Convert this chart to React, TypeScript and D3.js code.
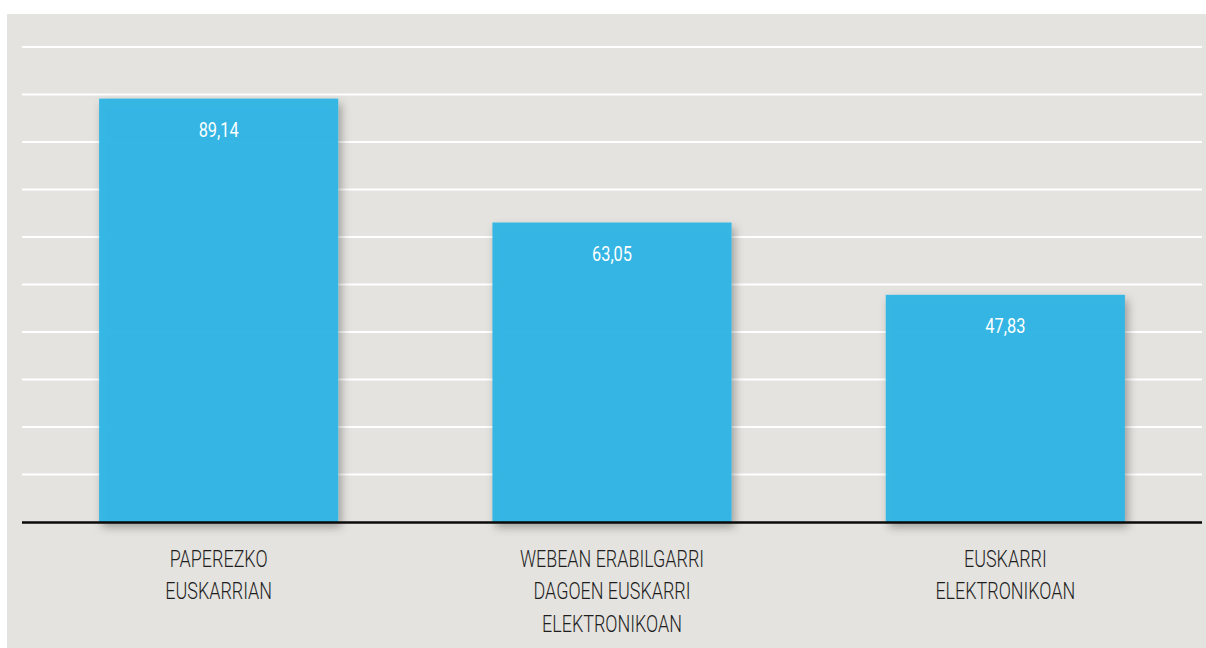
import React from "react";
import * as d3 from "d3";

const categories = [
  ["PAPEREZKO", "EUSKARRIAN"],
  ["WEBEAN ERABILGARRI", "DAGOEN EUSKARRI", "ELEKTRONIKOAN"],
  ["EUSKARRI", "ELEKTRONIKOAN"],
];
const values = [89.14, 63.05, 47.83];
const valueLabels = ["89,14", "63,05", "47,83"];
const gridTicks = [10, 20, 30, 40, 50, 60, 70, 80, 90, 100];

const W = 1206;
const H = 648;
const plotLeft = 22;
const plotRight = 1202;
const baseY = 522;
const topY = 47;

export default function App() {
  const x = d3
    .scaleBand<number>()
    .domain(d3.range(values.length))
    .range([plotLeft, plotRight])
    .paddingInner(0.392)
    .paddingOuter(0.196);
  const y = d3.scaleLinear().domain([0, 100]).range([baseY, topY]);
  const font = "Roboto, 'DejaVu Sans', sans-serif";

  return (
    <div style={{ position: "fixed", left: 0, top: 0, width: W, height: H, background: "#fff" }}>
      <svg width={W} height={H} style={{ display: "block" }}>
        <defs>
          <filter id="sh" x="-20%" y="-20%" width="140%" height="140%">
            <feDropShadow dx="3" dy="5" stdDeviation="5" floodColor="#000" floodOpacity="0.33" />
          </filter>
        </defs>
        <rect x={7} y={14} width={W - 7} height={H - 14} fill="#e4e3df" />
        {gridTicks.map((t) => (
          <line key={t} x1={plotLeft} x2={plotRight} y1={y(t)} y2={y(t)} stroke="#ffffff" strokeWidth={2.2} />
        ))}
        {values.map((v, i) => (
          <rect
            key={i}
            x={x(i)}
            y={y(v)}
            width={x.bandwidth()}
            height={baseY - y(v)}
            fill="#2fb5e4"
            fillOpacity={0.96}
            filter="url(#sh)"
          />
        ))}
        <line x1={plotLeft} x2={plotRight} y1={baseY + 0.5} y2={baseY + 0.5} stroke="#0a0a0a" strokeWidth={2.6} />
        {values.map((v, i) => {
          const cx = (x(i) as number) + x.bandwidth() / 2;
          return (
            <text
              key={"v" + i}
              transform={`translate(${cx},${y(v) + 38}) scale(0.84,1)`}
              textAnchor="middle"
              fill="#ffffff"
              fontFamily={font}
              fontSize={19.5}
            >
              {valueLabels[i]}
            </text>
          );
        })}
        {categories.map((lines, i) => {
          const cx = (x(i) as number) + x.bandwidth() / 2;
          return lines.map((ln, j) => (
            <text
              key={"c" + i + "-" + j}
              transform={`translate(${cx},${567 + j * 32.3}) scale(0.78,1)`}
              textAnchor="middle"
              fill="#1e1e1e"
              fontFamily={font}
              fontWeight={300}
              fontSize={23}
            >
              {ln}
            </text>
          ));
        })}
      </svg>
    </div>
  );
}
